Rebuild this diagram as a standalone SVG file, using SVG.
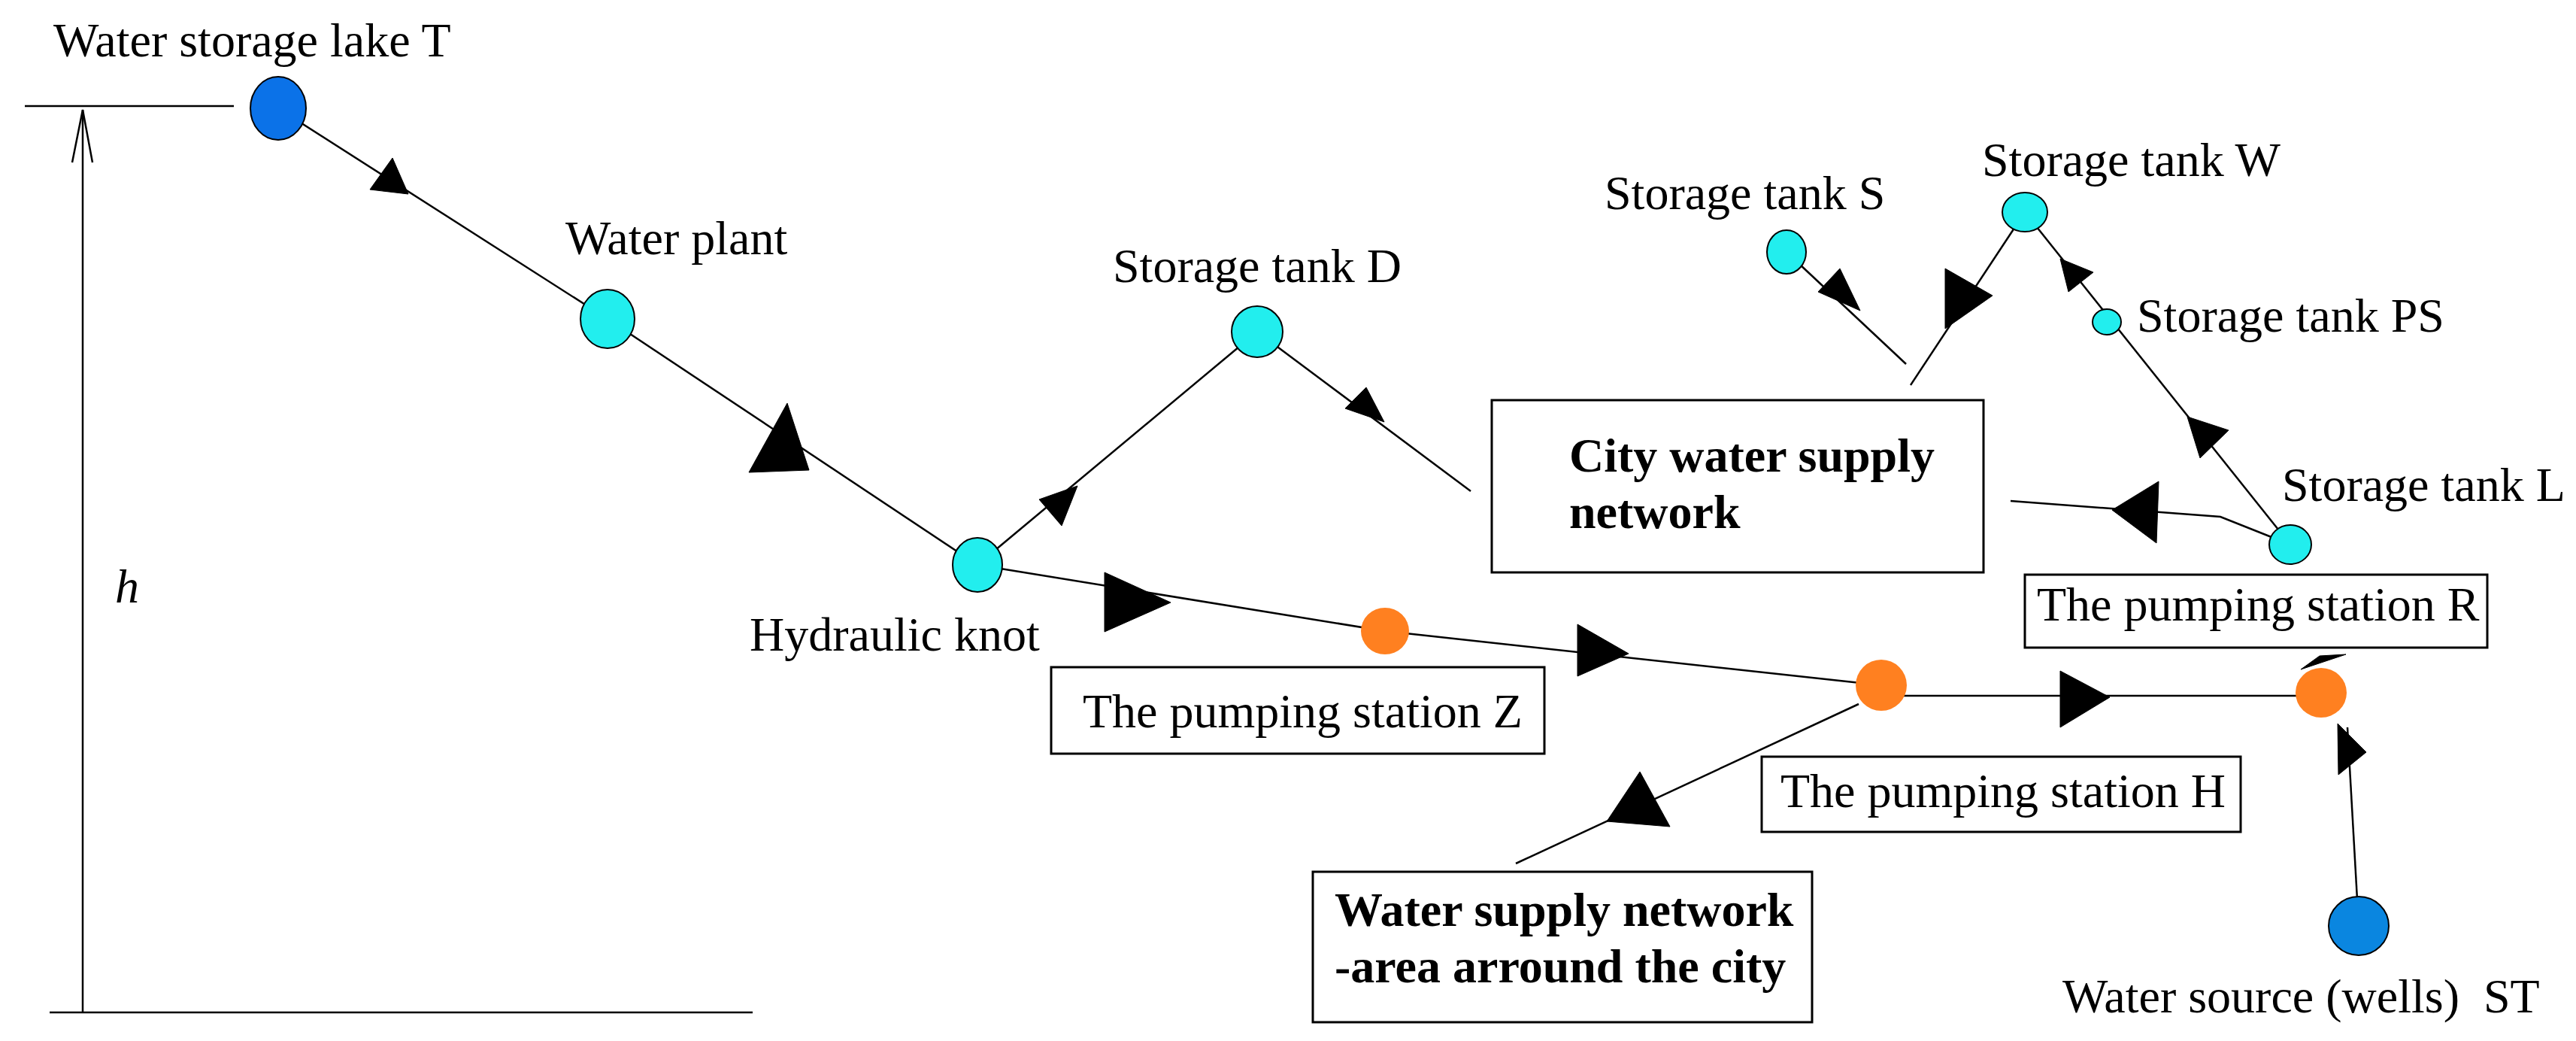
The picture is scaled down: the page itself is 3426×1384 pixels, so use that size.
<svg xmlns="http://www.w3.org/2000/svg" width="3426" height="1384" viewBox="0 0 3426 1384">
<style>
text{font-family:"Liberation Serif","Times New Roman",serif;font-size:64px;fill:#000}
.b{font-weight:bold}
.ln{stroke:#000;stroke-width:2.5;fill:none}
.ar{fill:#000;stroke:#000;stroke-width:1}
.box{fill:#fff;stroke:#000;stroke-width:3}
.cy{fill:#22eeee;stroke:#000;stroke-width:2}
.or{fill:#ff8020;stroke:none}
.bl{fill:#0b72e8;stroke:#000;stroke-width:2}
</style>
<rect width="3426" height="1384" fill="#fff"/>
<g id="axis">
<line class="ln" x1="33" y1="141" x2="311" y2="141"/>
<line class="ln" x1="110" y1="146" x2="110" y2="1346"/>
<polyline class="ln" points="96,216 110,146 123,216"/>
<line class="ln" x1="66" y1="1346" x2="1001" y2="1346"/>
<text x="153" y="801" font-style="italic">h</text>
</g>
<g id="connectors">
<line class="ln" x1="370" y1="144" x2="808" y2="424"/>
<polygon class="ar" points="492,252 522,210 543,258"/>
<line class="ln" x1="808" y1="424" x2="1300" y2="751"/>
<polygon class="ar" points="996,628 1047,536 1076,625"/>
<line class="ln" x1="1300" y1="751" x2="1672" y2="441"/>
<polygon class="ar" points="1382,664 1433,646 1412,699"/>
<line class="ln" x1="1672" y1="441" x2="1956" y2="653"/>
<polygon class="ar" points="1789,543 1817,515 1841,561"/>
<line class="ln" x1="1300" y1="751" x2="1842" y2="839"/>
<polygon class="ar" points="1469,761 1557,801 1469,840"/>
<line class="ln" x1="1842" y1="839" x2="2502" y2="911"/>
<polygon class="ar" points="2098,830 2166,869 2098,899"/>
<line class="ln" x1="2502" y1="925" x2="3087" y2="925"/>
<polygon class="ar" points="2740,892 2806,927 2740,967"/>
<polygon class="ar" points="3060,890 3120,870 3085,872"/>
<line class="ln" x1="3137" y1="1231" x2="3122" y2="967"/>
<polygon class="ar" points="3109,962 3147,1000 3110,1030"/>
<line class="ln" x1="2472" y1="936" x2="2016" y2="1148"/>
<polygon class="ar" points="2137,1092 2181,1026 2221,1099"/>
<line class="ln" x1="2376" y1="335" x2="2535" y2="484"/>
<polygon class="ar" points="2418,388 2447,357 2474,413"/>
<polyline class="ln" points="2541,512 2693,282"/>
<polygon class="ar" points="2587,357 2650,393 2587,437"/>
<line class="ln" x1="2693" y1="282" x2="3046" y2="724"/>
<polygon class="ar" points="2740,344 2784,362 2751,388"/>
<polygon class="ar" points="2909,554 2964,572 2926,609"/>
<polyline class="ln" points="3046,724 2953,687 2674,666"/>
<polygon class="ar" points="2871,640 2809,678 2868,722"/>
</g>
<g id="lakeT"><ellipse class="bl" cx="370" cy="144" rx="37" ry="42"/><text x="71" y="75">Water storage lake T</text></g>
<g id="plant"><ellipse class="cy" cx="808" cy="424" rx="36" ry="39"/><text x="752" y="338">Water plant</text></g>
<g id="knot"><ellipse class="cy" cx="1300" cy="751" rx="33" ry="36"/><text x="997" y="865">Hydraulic knot</text></g>
<g id="tankD"><ellipse class="cy" cx="1672" cy="441" rx="34" ry="34"/><text x="1480" y="375">Storage tank D</text></g>
<g id="stationZ"><ellipse class="or" cx="1842" cy="839" rx="32" ry="31"/><rect class="box" x="1398" y="887" width="656" height="115"/><text x="1440" y="967">The pumping station Z</text></g>
<g id="stationH"><ellipse class="or" cx="2502" cy="911" rx="34" ry="34"/><rect class="box" x="2343" y="1006" width="637" height="100"/><text x="2368" y="1073">The pumping station H</text></g>
<g id="stationR"><ellipse class="or" cx="3087" cy="921" rx="34" ry="33"/><rect class="box" x="2693" y="764" width="615" height="97"/><text x="2709" y="825">The pumping station R</text></g>
<g id="sourceST"><ellipse class="bl" cx="3137" cy="1231" rx="40" ry="39" style="fill:#0a86e0"/><text x="2743" y="1346" xml:space="preserve">Water source (wells)  ST</text></g>
<g id="areaNet"><rect class="box" x="1746" y="1159" width="664" height="200"/><text class="b" x="1775" y="1231">Water supply network</text><text class="b" x="1775" y="1306">-area arround the city</text></g>
<g id="cityNet"><rect class="box" x="1984" y="532" width="654" height="229"/><text class="b" x="2087" y="627">City water supply</text><text class="b" x="2087" y="702">network</text></g>
<g id="tankS"><ellipse class="cy" cx="2376" cy="335" rx="26" ry="29"/><text x="2134" y="278">Storage tank S</text></g>
<g id="tankW"><ellipse class="cy" cx="2693" cy="282" rx="30" ry="26"/><text x="2636" y="234">Storage tank W</text></g>
<g id="tankPS"><ellipse class="cy" cx="2802" cy="428" rx="19" ry="17"/><text x="2842" y="441">Storage tank PS</text></g>
<g id="tankL"><ellipse class="cy" cx="3046" cy="724" rx="28" ry="26"/><text x="3035" y="666">Storage tank L</text></g>
</svg>
